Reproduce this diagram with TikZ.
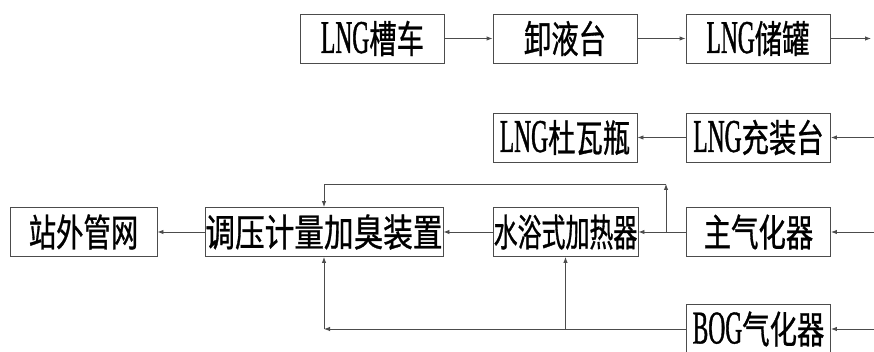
\documentclass[tikz,border=0pt]{standalone}
\usepackage{fontspec}
\usetikzlibrary{arrows.meta}
\newfontfamily\cjk[FakeStretch=0.72,FakeBold=0.8]{Noto Sans CJK SC}
\newfontfamily\cjkn[FakeStretch=0.63,FakeBold=0.8]{Noto Sans CJK SC}
\newfontfamily\cjkw[FakeStretch=0.78,FakeBold=0.8]{Noto Sans CJK SC}
\newfontfamily\lat[FakeStretch=0.5,FakeBold=0.8]{Liberation Serif}
\newcommand{\LNG}{{\fontsize{47}{47}\selectfont\lat LNG}}
\newcommand{\BOGtxt}{{\fontsize{47}{47}\selectfont\lat BOG}}
\begin{document}
\begin{tikzpicture}[x=1pt,y=-1pt,
  box/.style={draw=black!70, line width=0.9pt, minimum width=144pt, minimum height=49pt,
    inner sep=0pt, font=\fontsize{38}{38}\selectfont\cjk},
  conn/.style={draw=black!70, line width=0.9pt},
  arr/.style={conn, -{Latex[length=6pt,width=4.5pt]}}]
\fill[white] (0,0) rectangle (874,352);
\useasboundingbox (0,0) rectangle (874,352);
% row 1
\node[box] (A) at (372.5,38.5) {\LNG 槽车};
\node[box] (B) at (565,38.5) {卸液台};
\node[box] (C) at (758,38.5) {\LNG 储罐};
\coordinate (Cout) at (871,38.5);
% row 2
\node[box] (D) at (565,137.5) {\LNG 杜瓦瓶};
\node[box] (E) at (758.5,137.5) {\LNG 充装台};
\coordinate (Ein) at (874,137.5);
% row 3
\node[box, minimum width=147pt] (F) at (83.5,232) {站外管网};
\node[box, minimum width=238pt, font=\fontsize{38}{38}\selectfont\cjkw] (G) at (324,232) {调压计量加臭装置};
\node[box, minimum width=145pt, font=\fontsize{38}{38}\selectfont\cjkn] (H) at (565.5,232) {水浴式加热器};
\node[box] (I) at (758.5,232) {主气化器};
\coordinate (Iin) at (874,232);
% row 4
\node[box] (J) at (758.5,329) {\BOGtxt 气化器};
\coordinate (Jin) at (874,329);
% helper points
\coordinate (p1) at (666,232);
\coordinate (c1) at (666,184);
\coordinate (c2) at (324,329);
\coordinate (p2) at (565.5,329);
% connectors
\draw[arr] (A) -- (B);
\draw[arr] (B) -- (C);
\draw[arr] (C) -- (Cout);
\draw[arr] (Ein) -- (E);
\draw[arr] (E) -- (D);
\draw[arr] (Iin) -- (I);
\draw[arr] (I) -- (H);
\draw[arr] (p1) -- (c1);
\draw[arr] (c1) -| (G.north);
\draw[arr] (H) -- (G);
\draw[arr] (G) -- (F);
\draw[arr] (Jin) -- (J);
\draw[arr] (J) -- (c2);
\draw[arr] (c2) -- (G.south);
\draw[arr] (p2) -- (H.south);
\end{tikzpicture}
\end{document}
